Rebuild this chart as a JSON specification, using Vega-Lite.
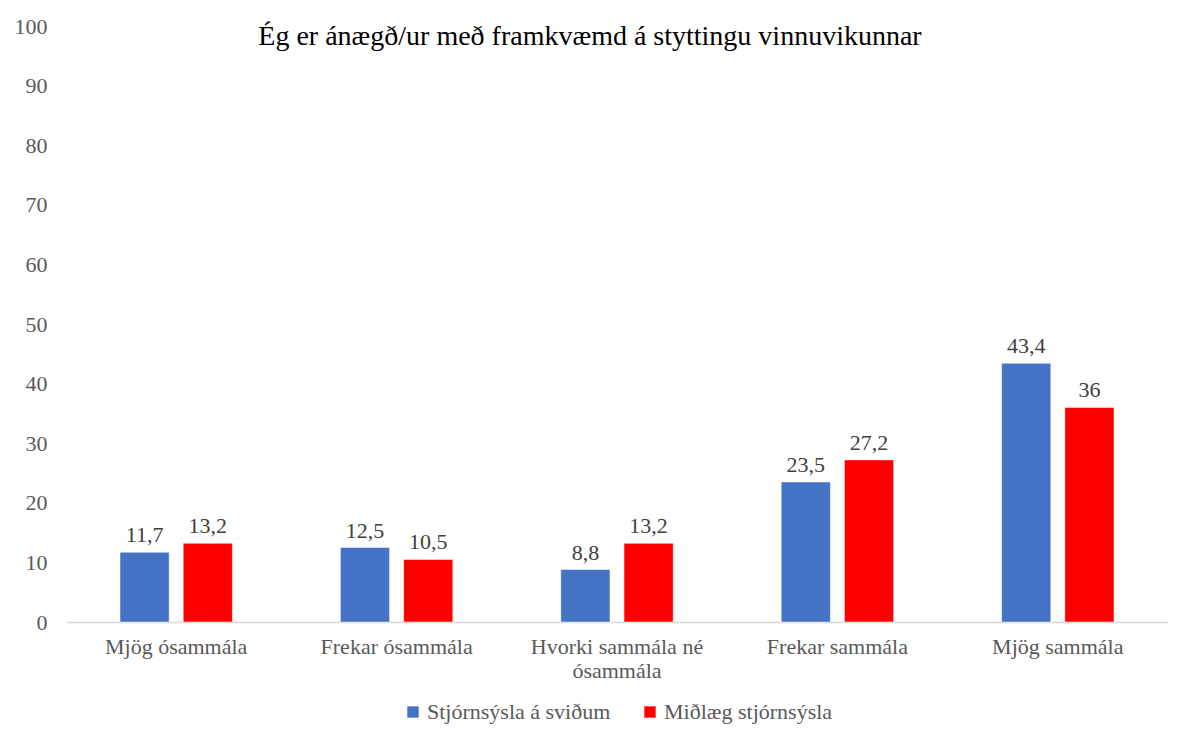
{
  "$schema": "https://vega.github.io/schema/vega-lite/v6.json",
  "autosize": {"type": "none"},
  "width": 1102,
  "height": 596,
  "padding": {"left": 66, "top": 26, "right": 12, "bottom": 108},
  "background": "white",
  "title": {
    "text": "Ég er ánægð/ur með framkvæmd á styttingu vinnuvikunnar",
    "anchor": "middle",
    "font": "Liberation Serif",
    "fontSize": 28,
    "fontWeight": "normal",
    "color": "#000000",
    "baseline": "alphabetic",
    "offset": -58,
    "dx": -27
  },
  "data": {
    "values": [
      {"flokkur": "Mjög ósammála", "hópur": "Stjórnsýsla á sviðum", "gildi": 11.7},
      {"flokkur": "Mjög ósammála", "hópur": "Miðlæg stjórnsýsla", "gildi": 13.2},
      {"flokkur": "Frekar ósammála", "hópur": "Stjórnsýsla á sviðum", "gildi": 12.5},
      {"flokkur": "Frekar ósammála", "hópur": "Miðlæg stjórnsýsla", "gildi": 10.5},
      {"flokkur": "Hvorki sammála né ósammála", "hópur": "Stjórnsýsla á sviðum", "gildi": 8.8},
      {"flokkur": "Hvorki sammála né ósammála", "hópur": "Miðlæg stjórnsýsla", "gildi": 13.2},
      {"flokkur": "Frekar sammála", "hópur": "Stjórnsýsla á sviðum", "gildi": 23.5},
      {"flokkur": "Frekar sammála", "hópur": "Miðlæg stjórnsýsla", "gildi": 27.2},
      {"flokkur": "Mjög sammála", "hópur": "Stjórnsýsla á sviðum", "gildi": 43.4},
      {"flokkur": "Mjög sammála", "hópur": "Miðlæg stjórnsýsla", "gildi": 36}
    ]
  },
  "encoding": {
    "x": {
      "field": "flokkur",
      "type": "nominal",
      "sort": ["Mjög ósammála", "Frekar ósammála", "Hvorki sammála né ósammála", "Frekar sammála", "Mjög sammála"],
      "scale": {"paddingInner": 0.49, "paddingOuter": 0.245},
      "axis": {
        "title": null,
        "labelAngle": 0,
        "ticks": false,
        "domainColor": "#d9d9d9",
        "domainWidth": 1.5,
        "labelFont": "Liberation Serif",
        "labelFontSize": 22,
        "labelColor": "#595959",
        "labelPadding": 14,
        "labelLineHeight": 24,
        "labelExpr": "datum.label == 'Hvorki sammála né ósammála' ? ['Hvorki sammála né', 'ósammála'] : datum.label"
      }
    },
    "xOffset": {
      "field": "hópur",
      "type": "nominal",
      "sort": ["Stjórnsýsla á sviðum", "Miðlæg stjórnsýsla"],
      "scale": {"paddingInner": 0.222, "paddingOuter": 0}
    },
    "y": {
      "field": "gildi",
      "type": "quantitative",
      "scale": {"domain": [0, 100]},
      "axis": {
        "title": null,
        "values": [0, 10, 20, 30, 40, 50, 60, 70, 80, 90, 100],
        "labelOverlap": false,
        "grid": false,
        "domain": false,
        "ticks": false,
        "labelFont": "Liberation Serif",
        "labelFontSize": 22,
        "labelColor": "#595959",
        "labelPadding": 19
      }
    },
    "color": {
      "field": "hópur",
      "type": "nominal",
      "sort": ["Stjórnsýsla á sviðum", "Miðlæg stjórnsýsla"],
      "scale": {"domain": ["Stjórnsýsla á sviðum", "Miðlæg stjórnsýsla"], "range": ["#4472C4", "#FF0000"]},
      "legend": {
        "title": null,
        "orient": "bottom",
        "direction": "horizontal",
        "symbolType": "square",
        "symbolSize": 130,
        "symbolStrokeWidth": 0,
        "labelFont": "Liberation Serif",
        "labelFontSize": 22,
        "labelColor": "#595959",
        "labelLimit": 400,
        "labelOffset": 3,
        "columnPadding": 28,
        "offset": 20
      }
    }
  },
  "layer": [
    {"mark": {"type": "bar", "stroke": "white", "strokeWidth": 0.5}},
    {
      "mark": {"type": "text", "baseline": "alphabetic", "dy": -10, "font": "Liberation Serif", "fontSize": 22},
      "encoding": {
        "text": {"field": "gildi", "type": "quantitative", "format": ".1~f"},
        "color": {"value": "#404040"}
      }
    }
  ],
  "config": {
    "font": "Liberation Serif",
    "view": {"stroke": null},
    "legend": {"labelFont": "Liberation Serif", "layout": {"bottom": {"anchor": "middle"}}},
    "locale": {"number": {"decimal": ",", "thousands": ".", "grouping": [3], "currency": ["", " kr."]}}
  }
}
